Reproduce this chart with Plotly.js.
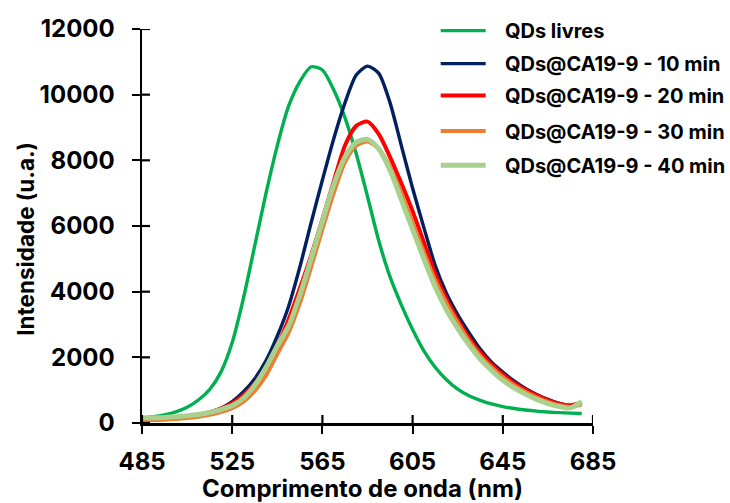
<!DOCTYPE html>
<html>
<head>
<meta charset="utf-8">
<script src="https://cdn.plot.ly/plotly-3.0.1.min.js"></script>
<style>
  html, body { margin: 0; padding: 0; background: #fff; }
  #chart { width: 730px; height: 503px; }
</style>
</head>
<body>
<div id="chart"></div>
<script>
// Emission spectra (wavelength in nm, intensity in a.u.)
const wavelength = [485, 490, 495, 500, 505, 510, 515, 520, 525, 530,
                    535, 540, 545, 550, 555, 560, 565, 570, 575, 580,
                    585, 590, 595, 600, 605, 610, 615, 620, 625, 630,
                    635, 640, 645, 650, 655, 660, 665, 670, 675, 680];

const qdsLivres = [150, 190, 250, 340, 480, 700, 1020, 1550, 2450, 3800,
                   5400, 7000, 8450, 9650, 10400, 10850, 10750, 10150, 9300, 8200,
                   6900, 5550, 4450, 3600, 2850, 2200, 1700, 1320, 1030, 830,
                   690, 580, 500, 440, 395, 360, 335, 315, 300, 290];

const ca10min = [120, 130, 150, 170, 200, 250, 330, 450, 650, 950,
                 1350, 1900, 2650, 3550, 4750, 6100, 7400, 8650, 9750, 10600,
                 10870, 10650, 9750, 8450, 7150, 5950, 4800, 3950, 3300, 2750,
                 2250, 1850, 1550, 1280, 1050, 870, 720, 600, 530, 600];

const ca20min = [130, 140, 160, 180, 210, 260, 330, 440, 600, 850,
                 1200, 1700, 2350, 3150, 4100, 5100, 6200, 7350, 8450, 9050,
                 9180, 8800, 8100, 7300, 6450, 5500, 4550, 3780, 3150, 2600,
                 2150, 1780, 1480, 1220, 1010, 840, 700, 590, 540, 620];

const ca30min = [80, 90, 100, 120, 150, 190, 250, 330, 450, 650,
                 980, 1450, 2100, 2750, 3650, 4750, 5900, 7000, 7950, 8450,
                 8570, 8350, 7800, 7000, 6100, 5200, 4350, 3650, 3050, 2500,
                 2050, 1700, 1400, 1150, 950, 780, 640, 540, 490, 560];

const ca40min = [150, 160, 170, 190, 220, 260, 320, 410, 530, 760,
                 1150, 1700, 2350, 2950, 3900, 5000, 6150, 7250, 8100, 8550,
                 8640, 8350, 7700, 6800, 5900, 5000, 4150, 3450, 2880, 2380,
                 1950, 1600, 1300, 1070, 880, 720, 590, 500, 460, 650];

const seriesNames = ['QDs livres', 'QDs@CA19-9 - 10 min', 'QDs@CA19-9 - 20 min',
                     'QDs@CA19-9 - 30 min', 'QDs@CA19-9 - 40 min'];
const seriesData = [qdsLivres, ca10min, ca20min, ca30min, ca40min];
const seriesColors = ['#00B050', '#002060', '#FF0000', '#ED7D31', '#A9D18E'];
const seriesWidths = [3.4, 3.4, 4, 4, 5];

const xTicks = [485, 525, 565, 605, 645, 685];
const yTicks = [0, 2000, 4000, 6000, 8000, 10000, 12000];

const xTitle = 'Comprimento de onda (nm)';
const yTitle = 'Intensidade (u.a.)';

const FONT = 'Inter, "Liberation Sans", Arial, sans-serif';
const legendIds = ['legend', 'legend2', 'legend3', 'legend4', 'legend5'];
const legendRowsY = [0.996, 0.912, 0.831, 0.741, 0.654];

const traces = seriesData.map((vals, i) => ({
  x: wavelength,
  y: vals,
  type: 'scatter',
  mode: 'lines',
  name: '\u00a0\u00a0\u00a0' + seriesNames[i],
  legend: legendIds[i],
  line: { color: seriesColors[i], width: seriesWidths[i], shape: 'spline', smoothing: 0.7 },
  hoverinfo: 'skip'
}));

// inner half of the crossing tick marks
const tickShapes = [];
xTicks.forEach(t => tickShapes.push({
  type: 'line', xref: 'x', yref: 'y', ysizemode: 'pixel', yanchor: 0,
  x0: t, x1: t, y0: 0, y1: 8, line: { color: '#000', width: 2.2 }
}));
yTicks.forEach(t => tickShapes.push({
  type: 'line', xref: 'x', yref: 'y', xsizemode: 'pixel', xanchor: 485,
  x0: 0, x1: 8, y0: t, y1: t, line: { color: '#000', width: 2.2 }
}));

const layout = {
  width: 730,
  height: 503,
  paper_bgcolor: '#fff',
  plot_bgcolor: '#fff',
  margin: { l: 141.5, r: 137, t: 29, b: 79.7, pad: 0, autoexpand: false },
  font: { family: FONT, color: '#000' },
  showlegend: true,
  xaxis: {
    range: [485, 685],
    tickvals: xTicks,
    ticktext: xTicks.map(String),
    ticks: 'outside', ticklen: 8, tickwidth: 2.2, tickcolor: '#000',
    showline: true, linecolor: '#000', linewidth: 2.5,
    showgrid: false, zeroline: false,
    ticklabelstandoff: 8,
    tickfont: { family: FONT, size: 24, color: '#000', weight: 'bold' },
    automargin: false,
    fixedrange: true
  },
  yaxis: {
    range: [0, 12000],
    tickvals: yTicks,
    ticktext: yTicks.map(String),
    ticks: 'outside', ticklen: 8, tickwidth: 2.2, tickcolor: '#000',
    showline: true, linecolor: '#000', linewidth: 2.5,
    showgrid: false, zeroline: false,
    ticklabelstandoff: 12,
    tickfont: { family: FONT, size: 24, color: '#000', weight: 'bold' },
    automargin: false,
    fixedrange: true
  },
  // axis titles placed as annotations for exact positioning
  annotations: [
    {
      text: xTitle, xref: 'paper', yref: 'paper', x: 0.488, y: -0.166,
      xanchor: 'center', yanchor: 'middle', showarrow: false,
      font: { family: FONT, size: 24, color: '#000', weight: 'bold' }
    },
    {
      text: yTitle, xref: 'paper', yref: 'paper', x: -0.26, y: 0.467,
      xanchor: 'center', yanchor: 'middle', textangle: -90, showarrow: false,
      font: { family: FONT, size: 22.5, color: '#000', weight: 'bold' }
    }
  ],
  shapes: tickShapes
};

// one single-entry legend per series, stacked in a column at the top right
legendIds.forEach((id, i) => {
  layout[id] = {
    x: 0.6512, y: legendRowsY[i], xanchor: 'left', yanchor: 'middle',
    bgcolor: 'rgba(0,0,0,0)',
    font: { family: FONT, size: 20, color: '#000', weight: 'bold' },
    itemwidth: 45
  };
});

Plotly.newPlot('chart', traces, layout, { staticPlot: true, displayModeBar: false });
</script>
</body>
</html>
